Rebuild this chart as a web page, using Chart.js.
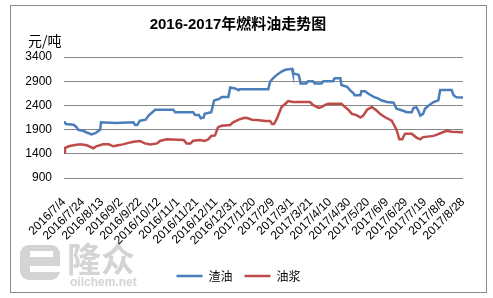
<!DOCTYPE html>
<html>
<head>
<meta charset="utf-8">
<script src="https://cdn.jsdelivr.net/npm/chart.js@4.4.0/dist/chart.umd.min.js"></script>
<style>
  html, body { margin: 0; padding: 0; background: #fff; }
  #wrap { width: 493px; height: 298px; }
</style>
</head>
<body>
<div id="wrap"><canvas id="oilChart" width="493" height="298"></canvas></div>
<script>
// x ticks every 20 days, from 2016/7/4
const tickLabels = [
  "2016/7/4", "2016/7/24", "2016/8/13", "2016/9/2", "2016/9/22", "2016/10/12",
  "2016/11/1", "2016/11/21", "2016/12/11", "2016/12/31", "2017/1/20", "2017/2/9",
  "2017/3/1", "2017/3/21", "2017/4/10", "2017/4/30", "2017/5/20", "2017/6/9",
  "2017/6/29", "2017/7/19", "2017/8/8", "2017/8/28"
];

// 渣油 : day offset from 2016/7/4 and price (元/吨)
const residueDays = [
  0, 2, 10, 13, 15, 20, 24, 29, 33, 38, 39, 54, 73, 75, 77, 80, 86, 89, 96, 115,
  117, 136, 138, 142, 144, 147, 148, 155, 158, 164, 166, 173, 175, 180, 184, 185,
  215, 217, 220, 224, 229, 233, 240, 241, 247, 248, 249, 255, 257, 262, 264, 271,
  273, 283, 285, 291, 292, 298, 301, 305, 306, 312, 313, 317, 320, 326, 331, 334,
  340, 347, 350, 357, 361, 366, 368, 371, 373, 375, 378, 380, 384, 389, 394, 396,
  408, 410, 413, 420
];
const residueValues = [
  2070, 2015, 2000, 1955, 1895, 1875, 1840, 1800, 1825, 1895, 2050, 2035, 2050, 1995, 1995, 2085, 2105, 2190, 2310, 2310,
  2260, 2260, 2200, 2200, 2135, 2150, 2225, 2260, 2500, 2540, 2575, 2575, 2770, 2750, 2715, 2735,
  2735, 2890, 2960, 3030, 3100, 3135, 3155, 3065, 3030, 2960, 2855, 2855, 2900, 2900, 2855, 2855,
  2900, 2900, 2960, 2960, 2820, 2785, 2715, 2645, 2610, 2610, 2690, 2690, 2645, 2575, 2540, 2505,
  2470, 2455, 2330, 2290, 2260, 2260, 2350, 2360, 2290, 2190, 2225, 2330, 2400, 2470, 2505, 2720,
  2720, 2610, 2570, 2565
];

// 油浆
const slurryDays = [
  0, 1, 5, 10, 17, 24, 31, 34, 41, 47, 52, 57, 62, 68, 73, 80, 85, 91, 98, 101,
  108, 126, 129, 133, 136, 143, 148, 152, 155, 159, 162, 166, 175, 178, 184, 189,
  192, 198, 203, 212, 217, 219, 221, 224, 227, 229, 233, 236, 241, 259, 262, 268,
  271, 275, 278, 292, 296, 299, 303, 308, 312, 315, 319, 324, 329, 333, 338, 345,
  350, 353, 356, 359, 366, 371, 375, 378, 385, 389, 394, 398, 403, 408, 420
];
const slurryValues = [
  1420, 1520, 1555, 1575, 1595, 1575, 1515, 1555, 1595, 1595, 1555, 1575, 1595, 1625, 1650, 1665, 1615, 1595, 1615, 1665,
  1700, 1685, 1615, 1615, 1670, 1685, 1665, 1700, 1770, 1780, 1945, 1980, 1995, 2050, 2105, 2140,
  2145, 2105, 2100, 2080, 2080, 2015, 2015, 2120, 2270, 2365, 2435, 2490, 2470, 2470, 2410, 2350,
  2365, 2410, 2435, 2435, 2365, 2315, 2225, 2200, 2150, 2190, 2310, 2365, 2295, 2220, 2155, 2085,
  1900, 1700, 1700, 1815, 1815, 1735, 1700, 1745, 1760, 1770, 1805, 1840, 1873, 1855, 1845
];

const toPoints = (days, values) => days.map((d, i) => ({ x: d, y: values[i] }));

const decorPlugin = {
  id: "decor",
  beforeDraw(chart) {
    const ctx = chart.ctx;
    ctx.save();
    ctx.fillStyle = "#fff";
    ctx.fillRect(0, 0, chart.width, chart.height);
    ctx.strokeStyle = "#8a8a8a";
    ctx.lineWidth = 1;
    ctx.strokeRect(10.5, 5.5, 476, 287);

    // watermark logo (e-shape + 隆众 + oilchem.net)
    ctx.fillStyle = "#d4d4d4";
    ctx.beginPath();
    ctx.roundRect(20, 245, 40, 35, 9);
    ctx.fill();
    ctx.fillStyle = "#fff";
    ctx.fillRect(30, 251, 23, 6);
    ctx.fillRect(30, 266, 31, 6);
    ctx.fillStyle = "#d4d4d4";
    ctx.font = "bold 34px 'Noto Sans CJK SC'";
    ctx.textBaseline = "middle";
    ctx.textAlign = "left";
    ctx.fillText("隆众", 67, 259);
    ctx.font = "bold 12px 'Liberation Sans'";
    ctx.fillText("oilchem.net", 70, 283);
    ctx.restore();
  },
  afterDraw(chart) {
    const ctx = chart.ctx;
    ctx.save();
    ctx.fillStyle = "#000";
    ctx.textBaseline = "middle";
    ctx.textAlign = "center";
    ctx.font = "bold 15px 'Liberation Sans', 'Noto Sans CJK SC'";
    ctx.fillText("2016-2017年燃料油走势图", 238, 25);
    ctx.textAlign = "left";
    ctx.font = "14px 'Noto Sans CJK SC'";
    ctx.fillText("元/吨", 28, 41);
    ctx.restore();
  }
};

new Chart(document.getElementById("oilChart"), {
  type: "line",
  data: {
    datasets: [
      {
        label: "渣油",
        data: toPoints(residueDays, residueValues),
        borderColor: "#4A7EBB",
        backgroundColor: "#4A7EBB",
        borderWidth: 2.5,
        pointRadius: 0,
        tension: 0,
        fill: false
      },
      {
        label: "油浆",
        data: toPoints(slurryDays, slurryValues),
        borderColor: "#BE4B48",
        backgroundColor: "#BE4B48",
        borderWidth: 2.5,
        pointRadius: 0,
        tension: 0,
        fill: false
      }
    ]
  },
  options: {
    responsive: false,
    animation: false,
    events: [],
    layout: { padding: { left: 14, right: 30, top: 57, bottom: 6 } },
    scales: {
      x: {
        type: "linear",
        min: 0,
        max: 420,
        grid: { display: false },
        border: { display: false },
        ticks: {
          stepSize: 20,
          autoSkip: false,
          maxTicksLimit: 50,
          minRotation: 45,
          maxRotation: 45,
          padding: 9,
          color: "#000",
          font: { size: 12, family: "'Liberation Sans'" },
          callback: (v) => tickLabels[v / 20] ?? ""
        },
        afterFit: (s) => { s.height = 80; }
      },
      y: {
        min: 900,
        max: 3400,
        grid: { color: "#868686", drawTicks: false },
        border: { display: false },
        ticks: {
          stepSize: 500,
          padding: 12,
          color: "#000",
          font: { size: 12, family: "'Liberation Sans'" },
          callback: (v) => String(v)
        },
        afterFit: (s) => { s.width = 50; }
      }
    },
    plugins: {
      title: { display: false },
      tooltip: { enabled: false },
      legend: {
        position: "bottom",
        labels: {
          usePointStyle: true,
          pointStyle: "line",
          pointStyleWidth: 26,
          padding: 12,
          color: "#000",
          font: { size: 12, family: "'Noto Sans CJK SC'" }
        }
      }
    }
  },
  plugins: [decorPlugin]
});
</script>
</body>
</html>
